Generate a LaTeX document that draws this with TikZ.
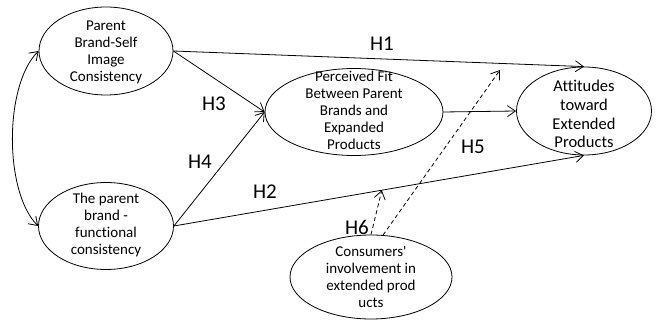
\documentclass[tikz,border=0pt]{standalone}
\usepackage{fontspec}
\setmainfont{Carlito}[Ligatures=NoCommon]
\usetikzlibrary{arrows.meta,shapes.geometric}
\begin{document}
\begin{tikzpicture}[x=1pt,y=-1pt,
  ell/.style={draw, ellipse, line width=0.8pt, inner sep=0pt},
  txt/.style={align=center, font=\fontsize{15}{17}\selectfont, inner sep=0pt},
  hyp/.style={font=\fontsize{21}{24}\selectfont, inner sep=0pt},
  conn/.style={line width=0.8pt, -{Straight Barb[length=8pt,width=11pt]}},
  dconn/.style={conn, dash pattern=on 4pt off 3pt}
]
\useasboundingbox (0,0) rectangle (657,320);

\node[ell, minimum width=134pt, minimum height=88pt] (A) at (106,51) {};
\node[ell, minimum width=135pt, minimum height=87pt] (B) at (106,226) {};
\node[ell, minimum width=178pt, minimum height=87pt] (C) at (354,112) {};
\node[ell, minimum width=135pt, minimum height=88pt] (D) at (584,111) {};
\node[ell, minimum width=162pt, minimum height=84pt] (E) at (371,277) {};

\node[txt] (tA) at (106,52) {Parent\\Brand-Self\\Image\\Consistency};
\node[txt] (tB) at (106,225) {The parent\\brand -\\functional\\consistency};
\node[txt] (tC) at (354,110) {Perceived Fit\\Between Parent\\Brands and\\Expanded\\Products};
\node[txt, font=\fontsize{16.5}{18.7}\selectfont] (tD) at (584,114) {Attitudes\\toward\\Extended\\Products};
\node[txt] (tE) at (371,277) {Consumers\textquotesingle\\involvement in\\extended prod\\ucts};

\draw[line width=0.8pt, {Straight Barb[length=8pt,width=11pt]}-{Straight Barb[length=8pt,width=11pt]}]
  (A.west) .. controls (4,85) and (4,192) .. (B.west);

\draw[conn] (A.east) -- (D.north);
\draw[conn] (A.east) -- (C.west);
\draw[conn] (B.east) -- (C.west);
\draw[conn] (B.east) -- coordinate[pos=0.507] (h6end) (D.south);
\draw[conn] (C.east) -- (D.west);

\coordinate (h5end) at (500,70);
\draw[dconn] (E.74) -- (h5end);
\draw[dconn] (E.north) -- (h6end);

\node[hyp] (H1) at (382,44) {H1};
\node[hyp] (H3) at (214,104) {H3};
\node[hyp] (H4) at (200,162) {H4};
\node[hyp] (H2) at (265,192) {H2};
\node[hyp] (H5) at (473,147) {H5};
\node[hyp] (H6) at (357,227) {H6};
\end{tikzpicture}
\end{document}
